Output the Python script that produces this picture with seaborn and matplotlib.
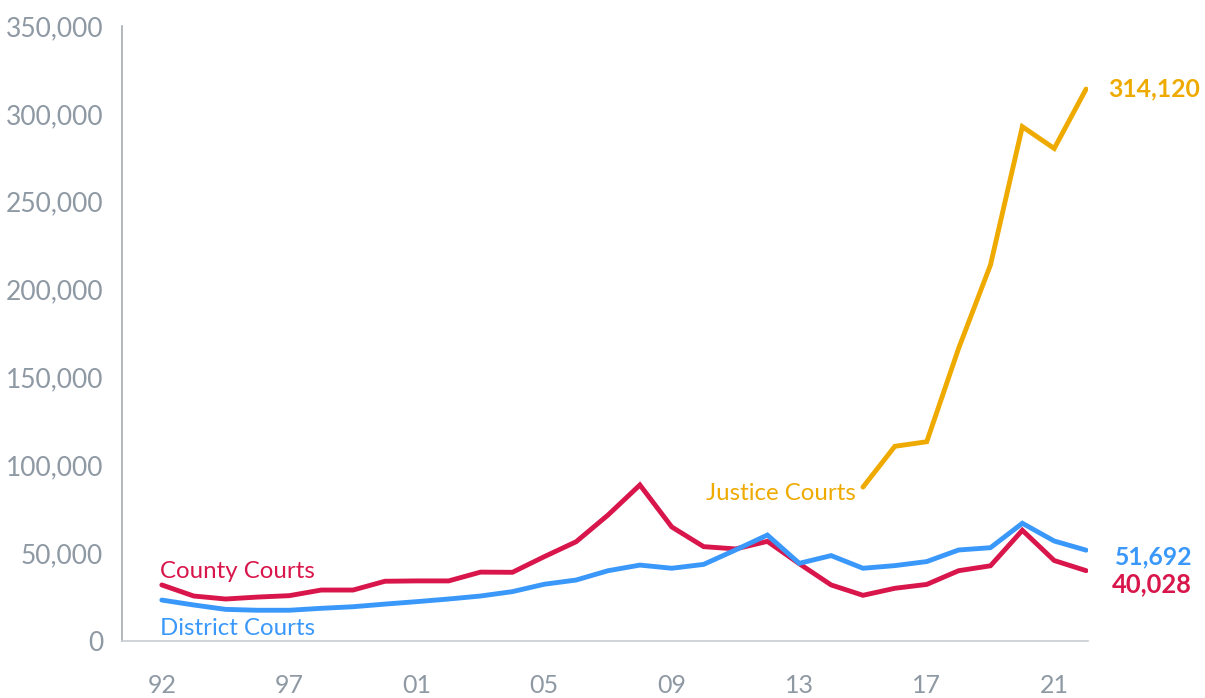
import numpy as np
import pandas as pd
import matplotlib
matplotlib.use("Agg")
import matplotlib.pyplot as plt
import seaborn as sns
from matplotlib import font_manager

# ---- data ----
x_tick_labels = ["92", "97", "01", "05", "09", "13", "17", "21"]
x_tick_index = [0, 4, 8, 12, 16, 20, 24, 28]
n_points = 30

county = [31900, 25600, 23900, 25000, 25800, 29000, 29000, 34000, 34200, 34200,
          39200, 39100, 48000, 56500, 71700, 88800, 64900, 53700, 52400, 56700,
          44000, 31900, 26000, 30000, 32200, 40000, 42800, 63000, 45800, 40028]
district = [23300, 20500, 18000, 17500, 17500, 18600, 19500, 21000, 22400, 23900,
            25600, 28100, 32300, 34700, 40000, 43200, 41400, 43600, 51800, 60300,
            44200, 48600, 41400, 42900, 45200, 51800, 53100, 67000, 56900, 51692]
justice_start = 22
justice = [87600, 110800, 113400, 166500, 214000, 292700, 280300, 314120]

series_names = ["Justice Courts", "County Courts", "District Courts"]
colors = {"Justice Courts": "#EFAA00", "County Courts": "#D8164B", "District Courts": "#3A98FB"}

rows = []
for i, v in enumerate(county):
    rows.append(("County Courts", i, v))
for i, v in enumerate(district):
    rows.append(("District Courts", i, v))
for k, v in enumerate(justice):
    rows.append(("Justice Courts", justice_start + k, v))
df = pd.DataFrame(rows, columns=["court", "idx", "value"])

sns.set_theme(style="white")
avail = {f.name for f in font_manager.fontManager.ttflist}
main_font = "Lato" if "Lato" in avail else "DejaVu Sans"
plt.rcParams["font.family"] = [main_font, "DejaVu Sans"]

W, H = 1205, 698
fig = plt.figure(figsize=(W / 100, H / 100), dpi=100)
left, right, top, bottom = 122, 1088, 26, 641
ax = fig.add_axes([left / W, (H - bottom) / H, (right - left) / W, (bottom - top) / H])

sns.lineplot(data=df, x="idx", y="value", hue="court", hue_order=series_names,
             palette=colors, linewidth=3.5, ax=ax, legend=False, sort=True)
for line in ax.lines:
    line.set_solid_capstyle("round")
    line.set_solid_joinstyle("miter")

ax.set_xlim(-1.25, 29.06)
ax.set_ylim(0, 350000)
ax.set_yticks(np.arange(0, 350001, 50000))
ax.set_yticklabels([f"{int(v):,}" for v in np.arange(0, 350001, 50000)])
ax.set_xticks(x_tick_index)
ax.set_xticklabels(x_tick_labels)
ax.set_xlabel("")
ax.set_ylabel("")

tick_color = "#8E99A4"
ax.tick_params(axis="y", length=0, pad=13.5, labelsize=19, labelcolor=tick_color)
ax.tick_params(axis="x", length=0, pad=24, labelsize=18, labelcolor=tick_color)

for s in ["top", "right"]:
    ax.spines[s].set_visible(False)
ax.spines["left"].set_color("#A3ABB3")
ax.spines["bottom"].set_color("#C9CED3")
ax.spines["left"].set_linewidth(1.2)
ax.spines["bottom"].set_linewidth(1.2)
ax.grid(False)

# series labels
lab_fs = 17.3
ax.text(-0.05, 39500, "County Courts", color=colors["County Courts"], fontsize=lab_fs,
        ha="left", va="center")
ax.text(-0.05, 7000, "District Courts", color=colors["District Courts"], fontsize=lab_fs,
        ha="left", va="center")
ax.text(justice_start - 0.22, 84000, "Justice Courts", color=colors["Justice Courts"],
        fontsize=lab_fs, ha="right", va="center")

# end value labels
last = n_points - 1
end_fs = 17.8
ax.text(last + 0.68, justice[-1], f"{justice[-1]:,}", color=colors["Justice Courts"],
        fontsize=end_fs, fontweight="bold", ha="left", va="center", clip_on=False)
ax.text(last + 0.9, district[-1] - 4000, f"{district[-1]:,}", color=colors["District Courts"],
        fontsize=end_fs, fontweight="bold", ha="left", va="center", clip_on=False)
ax.text(last + 0.8, county[-1] - 7500, f"{county[-1]:,}", color=colors["County Courts"],
        fontsize=end_fs + 0.6, fontweight="bold", ha="left", va="center", clip_on=False)

fig.savefig("out.png", dpi=100, facecolor="white")
